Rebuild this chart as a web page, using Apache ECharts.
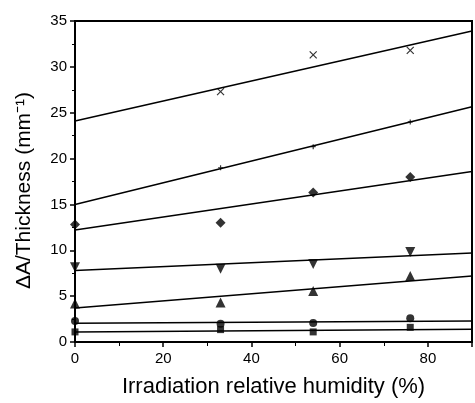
<!DOCTYPE html>
<html>
<head>
<meta charset="utf-8">
<script src="https://cdn.jsdelivr.net/npm/echarts@6/dist/echarts.min.js"></script>
<style>
  html, body { margin: 0; padding: 0; background: #fff; }
  #chart { width: 475px; height: 403px; }
</style>
</head>
<body>
<div id="chart"></div>
<script>
// humidity levels (x) and measured points per sample
var humidity = [0, 33, 54, 76];

var crossPts   = [null, 27.3, 31.3, 31.8];
var plusPts    = [null, 19.0, 21.3, 24.0];
var diamondPts = [12.8, 13.0, 16.3, 18.0];
var downPts    = [8.15, 8.0, 8.5, 9.8];
var upPts      = [4.2, 4.3, 5.55, 7.2];
var circlePts  = [2.3, 2.0, 2.06, 2.6];
var squarePts  = [1.1, 1.35, 1.1, 1.6];

// fitted lines: value at x = 0 and at x = 90
var fitStart = [24.1, 15.0, 12.2, 7.8, 3.7, 2.05, 1.1];
var fitEnd   = [33.9, 25.65, 18.6, 9.7, 7.2, 2.3, 1.4];

var yTicks = [0, 5, 10, 15, 20, 25, 30, 35];
var xTicks = [0, 20, 40, 60, 80];

var chart = echarts.init(document.getElementById('chart'));

function pts(vals) {
    var out = [];
    for (var i = 0; i < vals.length; i++) {
        if (vals[i] !== null) out.push([humidity[i], vals[i]]);
    }
    return out;
}

var markers = [
    { data: crossPts, symbol: 'path://M0,0L10,10M10,0L0,10', size: 7, stroke: true },
    { data: plusPts, symbol: 'path://M5,0L5,10M0,5L10,5', size: 5, stroke: true },
    { data: diamondPts, symbol: 'diamond', size: 10 },
    { data: downPts, symbol: 'triangle', size: 10, rotate: 180 },
    { data: upPts, symbol: 'triangle', size: 10 },
    { data: circlePts, symbol: 'circle', size: 8 },
    { data: squarePts, symbol: 'rect', size: 7 }
];

var series = [];
for (var k = 0; k < fitStart.length; k++) {
    series.push({
        type: 'line',
        data: [[0, fitStart[k]], [90, fitEnd[k]]],
        symbol: 'none',
        silent: true,
        lineStyle: { color: '#000', width: 1.5 }
    });
}
markers.forEach(function (m) {
    series.push({
        type: 'scatter',
        data: pts(m.data),
        symbol: m.symbol,
        symbolSize: m.size,
        symbolRotate: m.rotate || 0,
        itemStyle: m.stroke
            ? { color: '#000', borderColor: '#000', borderWidth: 1.2 }
            : { color: '#000' }
    });
});

var option = {
    animation: false,
    textStyle: { fontFamily: 'Liberation Sans, Arial, sans-serif' },
    grid: {
        left: 75, right: -5, top: 21, bottom: 60,
        show: true, borderColor: '#000', borderWidth: 2
    },
    xAxis: {
        type: 'value',
        min: 0, max: 90, interval: 20,
        name: 'Irradiation relative humidity (%)',
        nameLocation: 'middle',
        nameGap: 34,
        nameTextStyle: { color: '#000', fontSize: 22 },
        axisLine: { lineStyle: { color: '#000', width: 2 } },
        axisTick: { length: 5, lineStyle: { color: '#000', width: 1.5 } },
        minorTick: { show: true, splitNumber: 2, length: 4, lineStyle: { color: '#000' } },
        axisLabel: {
            color: '#000', fontSize: 15, margin: 9,
            formatter: function (v) { return xTicks.indexOf(v) >= 0 ? v : ''; }
        },
        splitLine: { show: false }
    },
    yAxis: {
        type: 'value',
        min: 0, max: 35, interval: 5,
        name: 'ΔA/Thickness (mm⁻¹)',
        nameLocation: 'middle',
        nameGap: 40,
        nameTextStyle: { color: '#000', fontSize: 21, padding: [0, 18, 0, 0] },
        axisLine: { lineStyle: { color: '#000', width: 2 } },
        axisTick: { length: 5, lineStyle: { color: '#000', width: 1.5 } },
        minorTick: { show: true, splitNumber: 2, length: 3, lineStyle: { color: '#000' } },
        axisLabel: {
            color: '#000', fontSize: 15, margin: 8,
            formatter: function (v) { return yTicks.indexOf(v) >= 0 ? v : ''; }
        },
        splitLine: { show: false }
    },
    series: series
};

chart.setOption(option);
window.addEventListener('resize', function () {
    chart.resize();
});
</script>
</body>
</html>
